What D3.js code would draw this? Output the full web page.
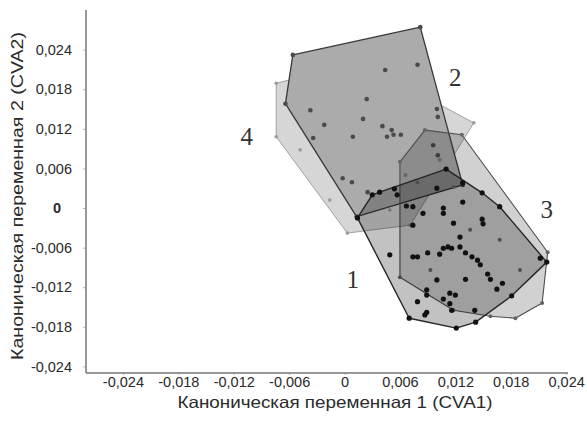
<!DOCTYPE html>
<html>
<head>
<meta charset="utf-8">
<script src="https://cdn.jsdelivr.net/npm/d3@7"></script>
<style>
  html, body { margin: 0; padding: 0; background: #fff; }
  svg { display: block; }
  .tick text { font-family: "Liberation Sans", Arial, sans-serif; font-size: 14.5px; fill: #2a2a2a; }
  .title { font-family: "Liberation Sans", Arial, sans-serif; fill: #2a2a2a; }
  .grp { font-family: "Liberation Serif", "Times New Roman", serif; font-size: 25px; fill: #333; }
</style>
</head>
<body>
<div id="chart"></div>
<script>
// Canonical scores, one list per group
const group1 = [
  [0.0014, -0.0015], [0.0030, 0.0020], [0.0054, 0.0029], [0.0128, 0.0038], [0.0149, 0.0023],
  [0.0168, 0.0002], [0.0219, -0.0082], [0.0181, -0.0133], [0.0142, -0.0173], [0.0121, -0.0182],
  [0.0070, -0.0167],
  [0.0067, 0.0003], [0.0074, 0.0002], [0.0085, -0.0008], [0.0107, -0.0008], [0.0074, -0.0026],
  [0.0118, -0.0023], [0.0149, -0.0017], [0.0150, -0.0024], [0.0049, -0.0071], [0.0074, -0.0074],
  [0.0079, -0.0074], [0.0090, -0.0068], [0.0103, -0.0070], [0.0107, -0.0061], [0.0112, -0.0059],
  [0.0116, -0.0061], [0.0125, -0.0044], [0.0125, -0.0059], [0.0131, -0.0068], [0.0138, -0.0074],
  [0.0144, -0.0079], [0.0147, -0.0086], [0.0100, -0.0109], [0.0131, -0.0108], [0.0155, -0.0100],
  [0.0158, -0.0108], [0.0165, -0.0123], [0.0171, -0.0114], [0.0089, -0.0124], [0.0089, -0.0132],
  [0.0114, -0.0129], [0.0120, -0.0132], [0.0107, -0.0138], [0.0114, -0.0145], [0.0116, -0.0155],
  [0.0079, -0.0142], [0.0089, -0.0158], [0.0087, -0.0162], [0.0141, -0.0155], [0.0212, -0.0076],
  [0.0110, 0.0059], [0.0100, 0.0030], [0.0128, 0.0009], [0.0107, 0.0000], [0.0038, 0.0024],
  [0.0057, 0.0020]
];
const group2 = [
  [-0.0056, 0.0232], [0.0082, 0.0274], [0.0128, 0.0035], [0.0013, -0.0013], [-0.0064, 0.0158],
  [0.0079, 0.0217], [0.0024, 0.0165], [0.0020, 0.0135], [-0.0022, 0.0126], [0.0009, 0.0108],
  [0.0041, 0.0124], [0.0051, 0.0118], [0.0053, 0.0111], [0.0046, 0.0108], [0.0061, 0.0111],
  [0.0100, 0.0150], [0.0101, 0.0138], [-0.0034, 0.0106], [-0.0037, 0.0148], [-0.0002, 0.0045],
  [0.0008, 0.0039], [0.0044, 0.0209], [0.0096, 0.0095], [0.0101, 0.0080], [0.0025, 0.0024]
];
const group3 = [
  [0.0060, 0.0070], [0.0087, 0.0118], [0.0127, 0.0111], [0.0220, -0.0067], [0.0214, -0.0144],
  [0.0185, -0.0167], [0.0158, -0.0164], [0.0118, -0.0155], [0.0060, -0.0105],
  [0.0066, 0.0050], [0.0079, 0.0039], [0.0118, 0.0032], [0.0103, 0.0073], [0.0136, -0.0033],
  [0.0168, -0.0048], [0.0190, -0.0094], [0.0093, -0.0094]
];
const group4 = [
  [-0.0074, 0.0189], [0.0017, 0.0221], [0.0140, 0.0129], [0.0071, -0.0026], [0.0003, -0.0038],
  [-0.0074, 0.0108],
  [-0.0048, 0.0088], [-0.0016, 0.0012], [-0.0026, 0.0164], [0.0011, 0.0088], [0.0049, -0.0003]
];

// where the group numbers sit
const groupNames = ["1", "2", "3", "4"];
const namePos = [[0.0009, -0.0109], [0.0120, 0.0197], [0.0219, -0.0002], [-0.0106, 0.0108]];

const xTicks = [-0.024, -0.018, -0.012, -0.006, 0, 0.006, 0.012, 0.018, 0.024];
const yTicks = [0.024, 0.018, 0.012, 0.006, 0, -0.006, -0.012, -0.018, -0.024];

const xTitle = "Каноническая переменная 1 (CVA1)";
const yTitle = "Каноническая переменная 2 (CVA2)";

const width = 587, height = 424;

const x = d3.scaleLinear().domain([-0.028, 0.0242]).range([86, 568]);
const y = d3.scaleLinear().domain([-0.025, 0.030]).range([373, 10]);

const ru = d3.formatLocale({decimal: ",", thousands: " ", grouping: [3], currency: ["", ""], minus: "-"});
const fmt = v => v === 0 ? "0" : ru.format(".3f")(v);

const svg = d3.select("#chart").append("svg")
  .attr("width", width)
  .attr("height", height);

// drawing order as in the original: 4 and 2 are solid, 3 and 1 see-through
const layers = [
  {pts: group4, fill: "#d6d6d6", opacity: 1, stroke: "#999", sw: 0.9, dot: "#9a9a9a", r: 1.8},
  {pts: group2, fill: "#ababab", opacity: 1, stroke: "#383838", sw: 1.3, dot: "#4a4a4a", r: 2.3},
  {pts: group3, fill: "#000", opacity: 0.18, stroke: "#4d4d4d", sw: 1.1, dot: "#666", r: 2.0},
  {pts: group1, fill: "#000", opacity: 0.24, stroke: "#262626", sw: 1.4, dot: "#111", r: 2.6}
];

const toPx = p => [x(p[0]), y(p[1])];

const plot = svg.append("g");

layers.forEach(l => {
  const hull = d3.polygonHull(l.pts.map(toPx));
  const g = plot.append("g");

  g.append("path")
    .attr("d", "M" + hull.join("L") + "Z")
    .attr("fill", l.fill)
    .attr("fill-opacity", l.opacity)
    .attr("stroke", l.stroke)
    .attr("stroke-width", l.sw)
    .attr("stroke-linejoin", "round");

  g.selectAll("circle")
    .data(l.pts)
    .join("circle")
    .attr("cx", d => x(d[0]))
    .attr("cy", d => y(d[1]))
    .attr("r", l.r)
    .attr("fill", l.dot);
});

// group numbers
svg.selectAll("text.grp")
  .data(groupNames)
  .join("text")
  .attr("class", "grp")
  .attr("x", (d, i) => x(namePos[i][0]))
  .attr("y", (d, i) => y(namePos[i][1]))
  .attr("text-anchor", "middle")
  .attr("dominant-baseline", "central")
  .text(d => d);

// Axes
const xAxis = svg.append("g")
  .attr("transform", `translate(0 ${y.range()[0]})`)
  .call(d3.axisBottom(x).tickValues(xTicks).tickFormat(fmt).tickSize(2).tickPadding(2));

const yAxis = svg.append("g")
  .attr("transform", `translate(${x.range()[0]} 0)`)
  .call(d3.axisLeft(y).tickValues(yTicks).tickFormat(fmt).tickSize(3).tickPadding(11));

[xAxis, yAxis].forEach(a => {
  a.select(".domain").remove();
  a.selectAll(".tick line").attr("stroke", "#bbb");
});

// the zero label on the y axis is bold and centred in the original
yAxis.selectAll(".tick text")
  .filter(d => d === 0)
  .attr("text-anchor", "middle")
  .attr("x", -29)
  .attr("font-weight", "bold");

svg.append("line")
  .attr("x1", x.range()[0]).attr("x2", x.range()[1])
  .attr("y1", y.range()[0]).attr("y2", y.range()[0])
  .attr("stroke", "#777").attr("stroke-width", 1.5);

svg.append("line")
  .attr("x1", x.range()[0]).attr("x2", x.range()[0])
  .attr("y1", y.range()[0]).attr("y2", y.range()[1])
  .attr("stroke", "#777").attr("stroke-width", 1.5);

// Axis titles, stretched a little wider like the scan
svg.append("text")
  .attr("class", "title")
  .attr("x", 335)
  .attr("y", 408)
  .attr("text-anchor", "middle")
  .attr("font-size", 16.5)
  .attr("textLength", 315)
  .attr("lengthAdjust", "spacingAndGlyphs")
  .text(xTitle);

svg.append("text")
  .attr("class", "title")
  .attr("transform", "translate(23 196) rotate(-90)")
  .attr("text-anchor", "middle")
  .attr("font-size", 17)
  .attr("textLength", 328)
  .attr("lengthAdjust", "spacingAndGlyphs")
  .text(yTitle);
</script>
</body>
</html>
